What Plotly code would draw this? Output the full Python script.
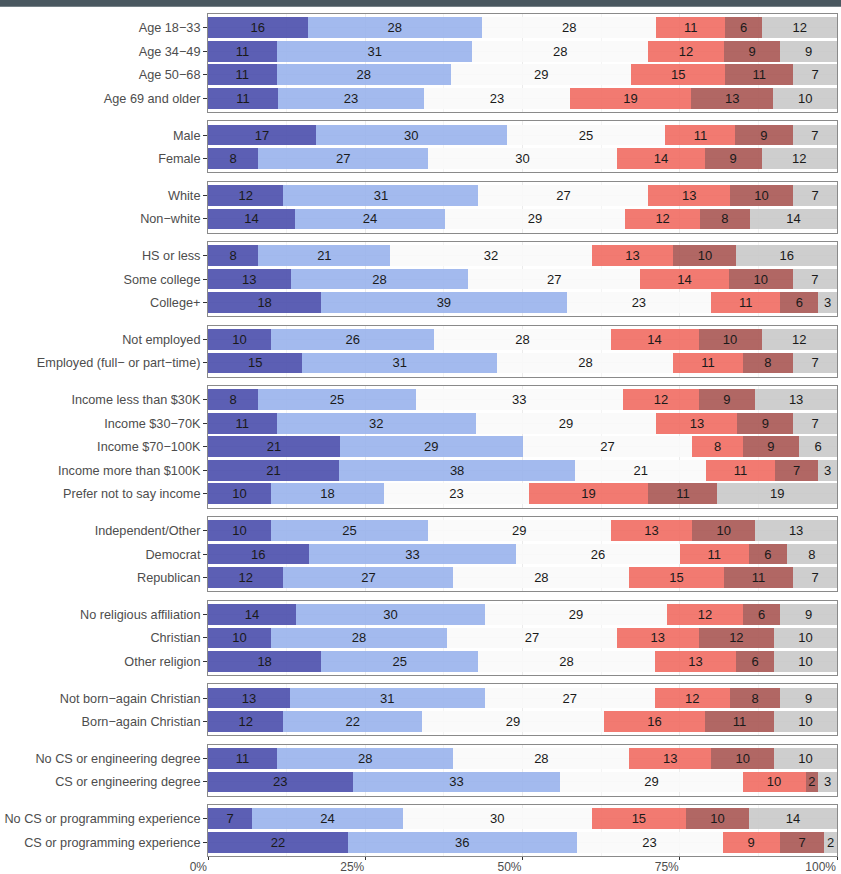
import plotly.graph_objects as go
from plotly.subplots import make_subplots

# ---- data -------------------------------------------------------------
groups = [
    ["Age 18−33", "Age 34−49", "Age 50−68", "Age 69 and older"],
    ["Male", "Female"],
    ["White", "Non−white"],
    ["HS or less", "Some college", "College+"],
    ["Not employed", "Employed (full− or part−time)"],
    ["Income less than $30K", "Income $30−70K", "Income $70−100K",
     "Income more than $100K", "Prefer not to say income"],
    ["Independent/Other", "Democrat", "Republican"],
    ["No religious affiliation", "Christian", "Other religion"],
    ["Not born−again Christian", "Born−again Christian"],
    ["No CS or engineering degree", "CS or engineering degree"],
    ["No CS or programming experience", "CS or programming experience"],
]

strongly_support = [16, 11, 11, 11, 17, 8, 12, 14, 8, 13, 18, 10, 15, 8, 11, 21, 21, 10,
                    10, 16, 12, 14, 10, 18, 13, 12, 11, 23, 7, 22]
somewhat_support = [28, 31, 28, 23, 30, 27, 31, 24, 21, 28, 39, 26, 31, 25, 32, 29, 38, 18,
                    25, 33, 27, 30, 28, 25, 31, 22, 28, 33, 24, 36]
neutral = [28, 28, 29, 23, 25, 30, 27, 29, 32, 27, 23, 28, 28, 33, 29, 27, 21, 23,
           29, 26, 28, 29, 27, 28, 27, 29, 28, 29, 30, 23]
somewhat_oppose = [11, 12, 15, 19, 11, 14, 13, 12, 13, 14, 11, 14, 11, 12, 13, 8, 11, 19,
                   13, 11, 15, 12, 13, 13, 12, 16, 13, 10, 15, 9]
strongly_oppose = [6, 9, 11, 13, 9, 9, 10, 8, 10, 10, 6, 10, 8, 9, 9, 9, 7, 11,
                   10, 6, 11, 6, 12, 6, 8, 11, 10, 2, 10, 7]
dont_know = [12, 9, 7, 10, 7, 12, 7, 14, 16, 7, 3, 12, 7, 13, 7, 6, 3, 19,
             13, 8, 7, 9, 10, 10, 9, 10, 10, 3, 14, 2]

x_tick_vals = [0, 25, 50, 75, 100]
x_tick_text = ["0%", "25%", "50%", "75%", "100%"]

series = [strongly_support, somewhat_support, neutral,
          somewhat_oppose, strongly_oppose, dont_know]
# apparent colours on white
apparent = [(92, 96, 180), (163, 186, 238), (250, 250, 250),
            (242, 122, 114), (178, 104, 100), (206, 206, 206)]
ALPHA = 0.9


def rgba(c, a=ALPHA):
    r, g, b = [max(0, min(255, round((v - 255 * (1 - a)) / a))) for v in c]
    return f"rgba({r},{g},{b},{a})"


colors = [rgba(c) for c in apparent]

# ---- layout geometry ---------------------------------------------------
W, H = 841, 874
ML, MR, MT, MB = 208, 4, 14, 18
PH = H - MT - MB
ROW_PX = 23.5
PAD_PX = 4
GAP_PX = 9.3
ns = [len(g) for g in groups]
heights = [n * ROW_PX + PAD_PX for n in ns]

fig = make_subplots(rows=len(groups), cols=1, shared_xaxes=True,
                    vertical_spacing=GAP_PX / PH, row_heights=heights)

FONT = "Liberation Sans, Arial, Helvetica, sans-serif"

start = 0
for gi, cats in enumerate(groups):
    n = len(cats)
    idx = list(range(start, start + n))
    start += n
    totals = [sum(s[i] for s in series) for i in idx]
    for si, s in enumerate(series):
        vals = [s[i] for i in idx]
        xs = [v / t * 100 for v, t in zip(vals, totals)]
        fig.add_trace(go.Bar(
            y=cats, x=xs, orientation="h",
            marker=dict(color=colors[si], line=dict(width=0)),
            text=[str(v) for v in vals],
            textposition="inside", insidetextanchor="middle",
            textangle=0, constraintext="none",
            textfont=dict(size=13, color="#1a1a1a", family=FONT),
            showlegend=False, hoverinfo="skip",
        ), row=gi + 1, col=1)
    e = PAD_PX / 2 / ROW_PX
    fig.update_yaxes(
        type="category", categoryorder="array", categoryarray=cats,
        range=[n - 0.5 + e, -0.5 - e], automargin=False,
        showline=True, mirror=True, linecolor="#8a8a8a", linewidth=1,
        ticks="outside", ticklen=4, tickcolor="#333333", tickwidth=1,
        tickfont=dict(size=12.7, color="#4d4d4d", family=FONT),
        showgrid=True, gridcolor="#ebebeb", gridwidth=1,
        zeroline=False,
        row=gi + 1, col=1)
    last = gi == len(groups) - 1
    fig.update_xaxes(
        range=[0, 100], automargin=False,
        tickvals=x_tick_vals, ticktext=x_tick_text,
        showticklabels=last,
        ticks="outside" if last else "", ticklen=3, tickcolor="#333333",
        ticklabelposition="outside left",
        tickfont=dict(size=12, color="#4d4d4d", family=FONT),
        showline=True, mirror=True, linecolor="#8a8a8a", linewidth=1,
        showgrid=True, gridcolor="#ebebeb", gridwidth=1,
        minor=dict(dtick=12.5, tick0=0, showgrid=True, gridcolor="#f4f4f4",
                   gridwidth=1),
        zeroline=False,
        row=gi + 1, col=1)

# dark band at the top of the page
fig.add_shape(type="rect", xref="paper", yref="paper",
              x0=-ML / (W - ML - MR), x1=1 + MR / (W - ML - MR),
              y0=1 + (MT - 6.7) / PH, y1=1 + MT / PH + 0.01,
              fillcolor="#4a5860", line=dict(width=0), layer="above")

fig.update_layout(
    width=W, height=H,
    margin=dict(l=ML, r=MR, t=MT, b=MB, autoexpand=False),
    barmode="stack", bargap=0.12,
    plot_bgcolor="white", paper_bgcolor="white",
    font=dict(family=FONT),
    showlegend=False,
)

fig.write_html("out.html")
